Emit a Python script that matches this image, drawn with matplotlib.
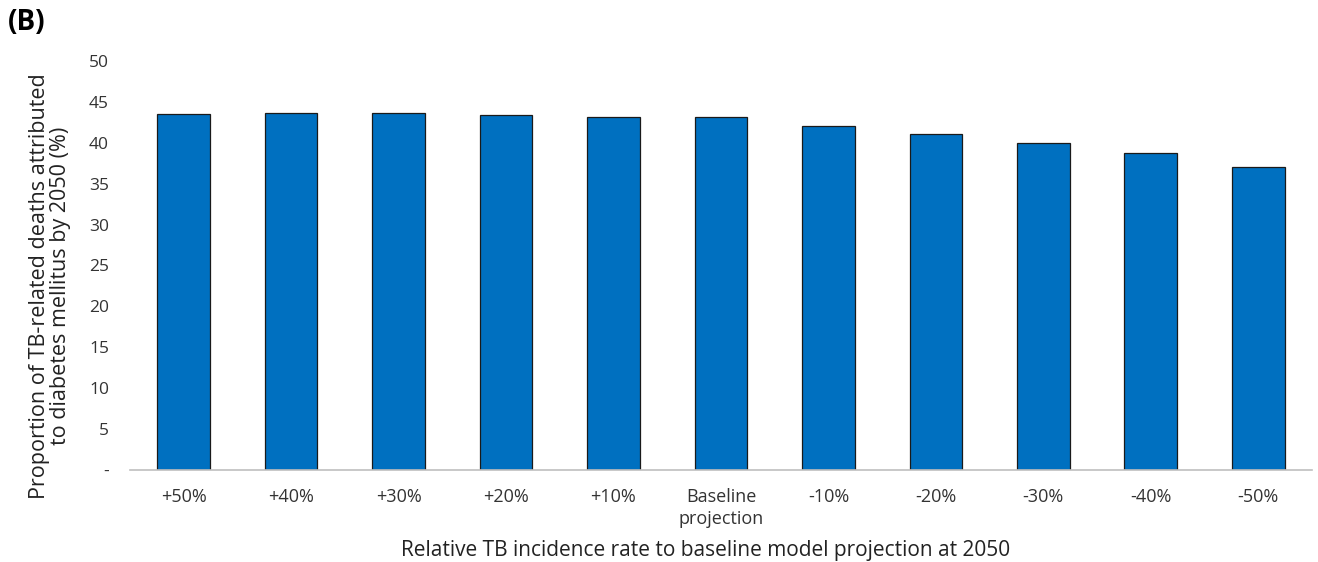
import matplotlib
matplotlib.use("Agg")
import matplotlib.pyplot as plt
from matplotlib.ticker import FuncFormatter

categories = ["+50%", "+40%", "+30%", "+20%", "+10%", "Baseline\nprojection",
              "-10%", "-20%", "-30%", "-40%", "-50%"]
values = [43.5, 43.6, 43.6, 43.4, 43.1, 43.1, 42.0, 41.1, 40.0, 38.8, 37.1]
y_ticks = [0, 5, 10, 15, 20, 25, 30, 35, 40, 45, 50]

plt.rcParams["font.family"] = ["Open Sans", "DejaVu Sans"]

fig = plt.figure(figsize=(13.18, 5.62), dpi=100)
ax = fig.add_axes([0.0986, 0.1637, 0.8968, 0.7278])

x = range(len(categories))
ax.bar(x, values, width=0.49, color="#0070C0", edgecolor="#1a1a1a", linewidth=0.9)

ax.set_ylim(0, 50)
ax.set_xlim(-0.5, len(categories) - 0.5)
ax.set_yticks(y_ticks)
ax.yaxis.set_major_formatter(FuncFormatter(lambda v, p: "-" if v == 0 else f"{v:g}"))
ax.set_xticks(list(x))
ax.set_xticklabels(categories, fontsize=13, color="#333333", linespacing=1.25)
ax.tick_params(axis="y", labelsize=12.5, labelcolor="#333333", length=0, pad=15)
ax.tick_params(axis="x", length=0, pad=13)

for s in ["top", "right", "left"]:
    ax.spines[s].set_visible(False)
ax.spines["bottom"].set_color("#bfbfbf")
ax.spines["bottom"].set_linewidth(1.2)

ax.set_ylabel("Proportion of TB-related deaths attributed\nto diabetes mellitus by 2050 (%)",
              fontsize=15.5, color="#222222", linespacing=1.0)
ax.yaxis.set_label_coords(-0.050, 0.45)
ax.set_xlabel("Relative TB incidence rate to baseline model projection at 2050",
              fontsize=15, color="#222222")
ax.xaxis.set_label_coords(0.487, -0.17)

fig.text(0.006, 0.985, "(B)", fontsize=20, fontweight="bold", va="top", ha="left")

fig.savefig("out.png", dpi=100)
